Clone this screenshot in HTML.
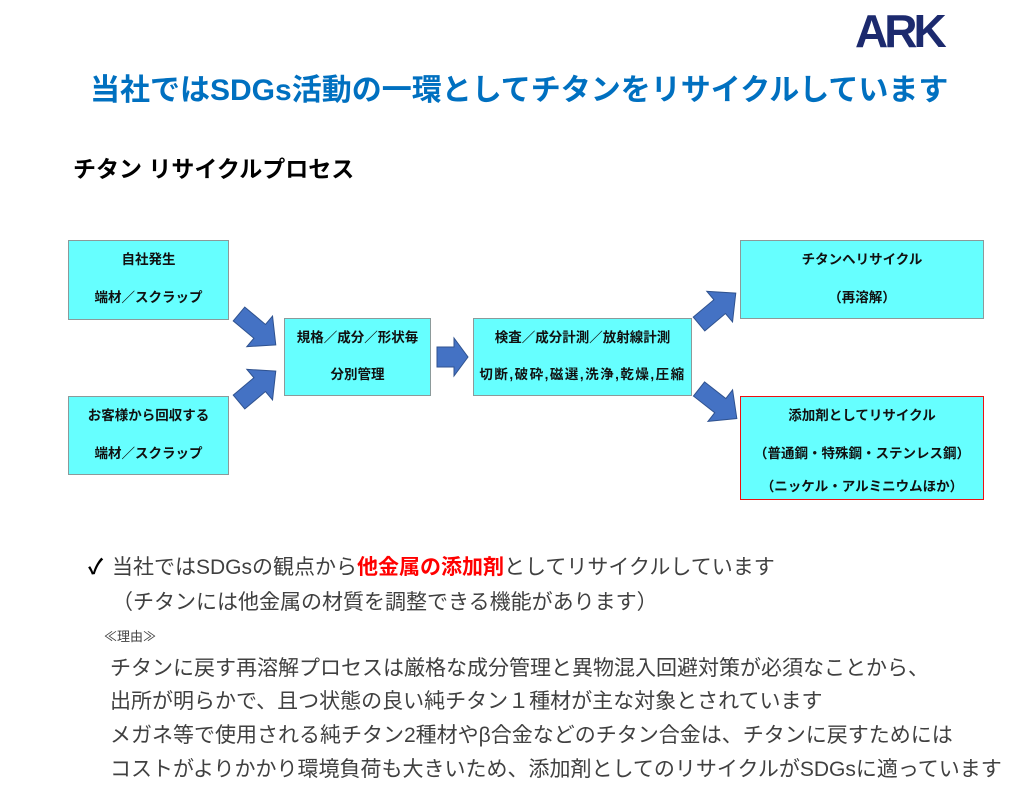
<!DOCTYPE html>
<html><head><meta charset="utf-8"><style>
body{margin:0;width:1024px;height:785px;background:#fff;position:relative;overflow:hidden;font-family:"Liberation Sans","Noto Sans CJK JP",sans-serif;}
.t{position:absolute;white-space:nowrap;}
.box{position:absolute;background:#66FFFF;border:1.5px solid #8c9a9a;box-sizing:border-box;font-weight:bold;font-size:13.5px;color:#111;text-align:center;}
.box div{position:absolute;left:0;right:0;white-space:nowrap;}
.b{color:#404040;font-size:21px;}
</style></head><body>
<div class="t" style="left:855px;top:4px;font-size:46px;font-weight:900;color:#1c2a6e;font-family:'Liberation Sans',sans-serif;letter-spacing:-4px;">ARK</div>
<div class="t" style="left:90px;top:65px;font-size:30px;font-weight:bold;color:#0070C0;">当社ではSDGs活動の一環としてチタンをリサイクルしています</div>
<div class="t" style="left:73px;top:150px;font-size:23px;font-weight:bold;color:#000;">チタン リサイクルプロセス</div>

<div class="box" style="left:68px;top:240px;width:161px;height:80px;"><div style="top:7px">自社発生</div><div style="top:45px">端材／スクラップ</div></div>
<div class="box" style="left:68px;top:396px;width:161px;height:79px;"><div style="top:7px">お客様から回収する</div><div style="top:45px">端材／スクラップ</div></div>
<div class="box" style="left:284px;top:318px;width:147px;height:78px;"><div style="top:7px">規格／成分／形状毎</div><div style="top:44px">分別管理</div></div>
<div class="box" style="left:473px;top:318px;width:219px;height:78px;"><div style="top:7px">検査／成分計測／放射線計測</div><div style="top:44px;letter-spacing:1.5px">切断,破砕,磁選,洗浄,乾燥,圧縮</div></div>
<div class="box" style="left:740px;top:240px;width:244px;height:79px;"><div style="top:7px">チタンへリサイクル</div><div style="top:45px">（再溶解）</div></div>
<div class="box" style="left:740px;top:396px;width:244px;height:104px;border:1.5px solid #ee1111;"><div style="top:7px">添加剤としてリサイクル</div><div style="top:45px">（普通鋼・特殊鋼・ステンレス鋼）</div><div style="top:78px">（ニッケル・アルミニウムほか）</div></div>

<svg width="1024" height="785" style="position:absolute;left:0;top:0">
<defs><polygon id="ar" points="0,-9 27,-9 27,-20 48,0 27,20 27,9 0,9" fill="#4472C4" stroke="#2f528f" stroke-width="1"/></defs>
<use href="#ar" transform="translate(239,314) rotate(40)"/>
<use href="#ar" transform="translate(239,402) rotate(-40)"/>
<use href="#ar" transform="translate(699,324) rotate(-40)"/>
<use href="#ar" transform="translate(699,389) rotate(38)"/>
<polygon points="437,347 454,347 454,338 468,357 454,376 454,367 437,367" fill="#4472C4" stroke="#2f528f" stroke-width="1"/>
</svg>

<div class="t b" style="left:88px;top:551px;color:#000;font-weight:bold;">✓</div>
<div class="t b" style="left:112px;top:551px;">当社ではSDGsの観点から<span style="color:#ff0000;font-weight:bold;">他金属の添加剤</span>としてリサイクルしています</div>
<div class="t b" style="left:112px;top:586px;">（チタンには他金属の材質を調整できる機能があります）</div>
<div class="t" style="left:104px;top:626px;font-size:13px;color:#404040;">≪理由≫</div>
<div class="t b" style="left:110px;top:652px;">チタンに戻す再溶解プロセスは厳格な成分管理と異物混入回避対策が必須なことから、</div>
<div class="t b" style="left:110px;top:685px;">出所が明らかで、且つ状態の良い純チタン１種材が主な対象とされています</div>
<div class="t b" style="left:110px;top:719px;">メガネ等で使用される純チタン2種材やβ合金などのチタン合金は、チタンに戻すためには</div>
<div class="t b" style="left:110px;top:753px;">コストがよりかかり環境負荷も大きいため、添加剤としてのリサイクルがSDGsに適っています</div>
</body></html>
